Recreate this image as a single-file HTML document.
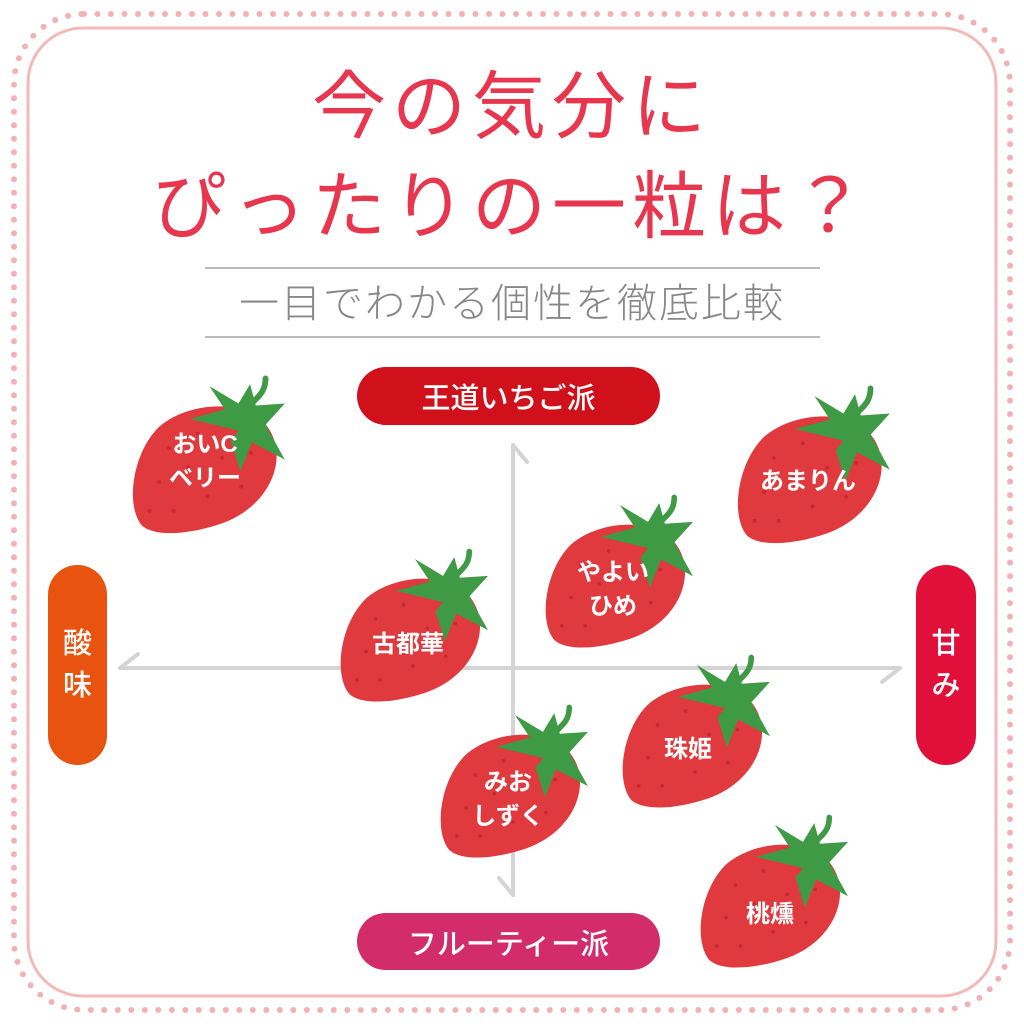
<!DOCTYPE html>
<html><head><meta charset="utf-8"><style>
html,body{margin:0;padding:0;background:#fff}
body{width:1024px;height:1024px;position:relative;overflow:hidden;font-family:"Liberation Sans","Noto Sans CJK JP",sans-serif}
.t{position:absolute;left:0;width:1024px;text-align:center;color:#e8364e;font-size:74px;font-weight:400;letter-spacing:6px;line-height:1}
.pill{position:absolute;color:#fff;font-size:29px;display:flex;align-items:center;justify-content:center;border-radius:30px;font-weight:500}
.lbl{position:absolute;color:#fff;font-weight:bold;font-size:24px;text-align:center;line-height:34px;transform:translate(-50%,-50%);white-space:nowrap}
</style></head><body>
<svg width="1024" height="1024" style="position:absolute;left:0;top:0">
<defs>
<symbol id="sb" viewBox="0 0 160 150" overflow="visible">
<path d="M12,140 C-5,120 2,65 30,38 C60,12 120,8 142,38 C165,70 145,120 95,138 C60,150 25,152 12,140 Z" fill="#e03a3e"/>
<g fill="#b5202a" opacity="0.6">
<circle cx="40" cy="60" r="2"/><circle cx="70" cy="45" r="2"/><circle cx="30" cy="95" r="2"/><circle cx="60" cy="80" r="2"/><circle cx="95" cy="70" r="2"/><circle cx="45" cy="125" r="2"/><circle cx="80" cy="110" r="2"/><circle cx="115" cy="100" r="2"/><circle cx="125" cy="65" r="2"/><circle cx="20" cy="125" r="2"/>
</g>
<path d="M112,42 L62,30 L98,20 L82,-4 L112,14 L124,-6 L130,16 L160,14 L140,36 L160,72 L126,54 L114,84 L104,52 Z" fill="#3f9a45"/>
<path d="M122,18 C130,8 140,4 140,-12" stroke="#3f9a45" stroke-width="6" fill="none" stroke-linecap="round"/>
</symbol>
</defs>
<rect x="14" y="14" width="996" height="996" rx="70" fill="none" stroke="#f0b2b4" stroke-width="6" stroke-dasharray="0 13.5" stroke-linecap="round"/>
<rect x="28" y="28" width="968" height="968" rx="55" fill="none" stroke="#f2b8ba" stroke-width="3"/>
<line x1="205" y1="268" x2="820" y2="268" stroke="#bbb" stroke-width="2"/>
<line x1="205" y1="337" x2="820" y2="337" stroke="#bbb" stroke-width="2"/>
<g stroke="#d4d4d4" stroke-width="4" fill="none" stroke-linecap="round">
<path d="M120,668 L900,668"/><path d="M120,668 L138,654"/><path d="M900,668 L882,682"/>
<path d="M513,445 L513,895"/><path d="M513,445 L527,462"/><path d="M513,895 L499,878"/>
</g>
<use href="#sb" x="130" y="390" width="155" height="145"/>
<use href="#sb" x="735" y="400" width="155" height="145"/>
<use href="#sb" x="543" y="508" width="150" height="142"/>
<use href="#sb" x="338" y="562" width="150" height="142"/>
<use href="#sb" x="620" y="668" width="150" height="142"/>
<use href="#sb" x="438" y="718" width="150" height="142"/>
<use href="#sb" x="698" y="828" width="150" height="142"/>
</svg>
<div class="t" style="top:70px">今の気分に</div>
<div class="t" style="top:170px">ぴったりの一粒は？</div>
<div style="position:absolute;left:0;width:1024px;top:281px;text-align:center;color:#888;font-size:40px;font-weight:300;letter-spacing:2px;line-height:46px">一目でわかる個性を徹底比較</div>
<div class="pill" style="left:357px;top:367px;width:303px;height:58px;background:#d0101a">王道いちご派</div>
<div class="pill" style="left:357px;top:913px;width:303px;height:57px;background:#d22c6a">フルーティー派</div>
<div class="pill" style="left:48px;top:565px;width:59px;height:200px;background:#e8540f;flex-direction:column;line-height:42px">酸<br>味</div>
<div class="pill" style="left:916px;top:565px;width:60px;height:200px;background:#e0103a;flex-direction:column;line-height:42px">甘<br>み</div>
<div class="lbl" style="left:205px;top:462px">おいC<br>ベリー</div>
<div class="lbl" style="left:808px;top:482px">あまりん</div>
<div class="lbl" style="left:613px;top:590px">やよい<br>ひめ</div>
<div class="lbl" style="left:408px;top:645px">古都華</div>
<div class="lbl" style="left:688px;top:750px">珠姫</div>
<div class="lbl" style="left:508px;top:800px">みお<br>しずく</div>
<div class="lbl" style="left:770px;top:915px">桃燻</div>
</body></html>
